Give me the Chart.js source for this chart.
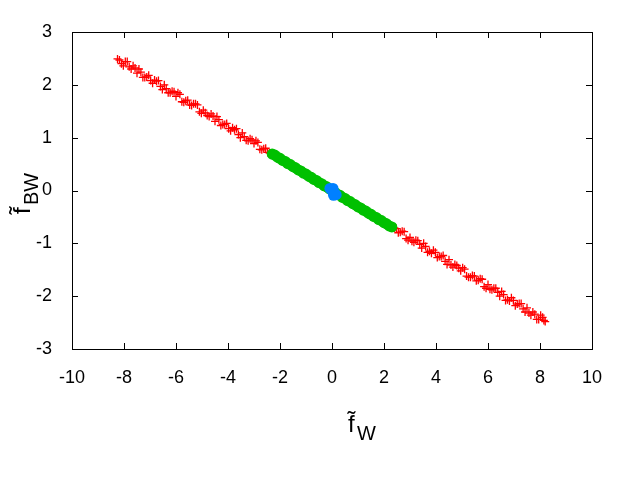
<!DOCTYPE html>
<html>
<head>
<meta charset="utf-8">
<script src="https://cdn.jsdelivr.net/npm/chart.js@4"></script>
<style>
  body { margin: 0; background: #fff; }
</style>
</head>
<body>
<canvas id="grafico" width="640" height="480"></canvas>
<script>
// red crosses, outer part of the band
var redX = [-8.25, -8.1, -7.95, -7.8, -7.65, -7.5, -7.35, -7.2, -7.05, -6.9, -6.75, -6.6, -6.45, -6.3, -6.15, -6.0,
    -5.85, -5.7, -5.55, -5.4, -5.25, -5.1, -4.95, -4.8, -4.65, -4.5, -4.35, -4.2, -4.05, -3.9, -3.75, -3.6,
    -3.45, -3.3, -3.15, -3.0, -2.85, -2.7, -2.55, -2.4,
    2.4, 2.55, 2.7, 2.85, 3.0, 3.15, 3.3, 3.45, 3.6, 3.75, 3.9, 4.05, 4.2, 4.35, 4.5, 4.65,
    4.8, 4.95, 5.1, 5.25, 5.4, 5.55, 5.7, 5.85, 6.0, 6.15, 6.3, 6.45, 6.6, 6.75, 6.9, 7.05,
    7.2, 7.35, 7.5, 7.65, 7.8, 7.95, 8.1, 8.2,
    -8.175, -8.025, -7.875, -7.725, -7.575, -7.425, -7.275, -7.125, -6.975, -6.825, -6.675, -6.525, -6.375,
    -6.225, -6.075, -5.925, -5.775, -5.625, -5.475, -5.325, -5.175, -5.025, -4.875, -4.725, -4.575, -4.425,
    -4.275, -4.125, -3.975, -3.825, -3.675, -3.525, -3.375, -3.225, -3.075, -2.925, -2.775, -2.625, -2.475,
    2.475, 2.625, 2.775, 2.925, 3.075, 3.225, 3.375, 3.525, 3.675, 3.825, 3.975, 4.125, 4.275,
    4.425, 4.575, 4.725, 4.875, 5.025, 5.175, 5.325, 5.475, 5.625, 5.775, 5.925, 6.075, 6.225,
    6.375, 6.525, 6.675, 6.825, 6.975, 7.125, 7.275, 7.425, 7.575, 7.725, 7.875, 8.025, 8.15];
var redY = [2.49, 2.40, 2.44, 2.34, 2.36, 2.22, 2.24, 2.14, 2.18, 2.03, 2.07, 1.97, 2.00, 1.85, 1.88, 1.78,
    1.82, 1.67, 1.71, 1.61, 1.64, 1.49, 1.52, 1.42, 1.45, 1.31, 1.34, 1.25, 1.27, 1.13, 1.15, 1.06,
    1.09, 0.95, 0.98, 0.89, 0.91, 0.77, 0.80, 0.71,
    -0.71, -0.80, -0.77, -0.91, -0.89, -0.98, -0.95, -1.09, -1.06, -1.15, -1.13, -1.27, -1.25, -1.34, -1.31, -1.45,
    -1.42, -1.52, -1.49, -1.64, -1.61, -1.71, -1.67, -1.82, -1.78, -1.88, -1.85, -2.00, -1.97, -2.07, -2.03, -2.18,
    -2.14, -2.24, -2.22, -2.36, -2.34, -2.44, -2.40, -2.48,
    2.47, 2.36, 2.44, 2.30, 2.32, 2.30, 2.14, 2.15, 2.08, 2.09, 2.08, 1.91, 1.93,
    1.85, 1.87, 1.85, 1.68, 1.70, 1.62, 1.64, 1.62, 1.46, 1.47, 1.40, 1.41, 1.40,
    1.23, 1.25, 1.17, 1.19, 1.17, 1.00, 1.02, 0.94, 0.96, 0.94, 0.78, 0.79, 0.72,
    -0.72, -0.79, -0.78, -0.94, -0.96, -0.94, -1.02, -1.00, -1.17, -1.19, -1.17, -1.25, -1.23,
    -1.40, -1.41, -1.40, -1.47, -1.46, -1.62, -1.64, -1.62, -1.70, -1.68, -1.85, -1.87, -1.85,
    -1.93, -1.91, -2.08, -2.09, -2.08, -2.15, -2.14, -2.30, -2.32, -2.30, -2.44, -2.36, -2.46];

// green band in the middle
var greenX = [-2.3, -2.2, -2.1, -2.0, -1.9, -1.8, -1.7, -1.6, -1.5, -1.4, -1.3, -1.2, -1.1, -1.0, -0.9, -0.8,
    -0.7, -0.6, -0.5, -0.4, -0.3, -0.2, -0.1, 0.0, 0.1, 0.2, 0.3, 0.4, 0.5, 0.6, 0.7, 0.8,
    0.9, 1.0, 1.1, 1.2, 1.3, 1.4, 1.5, 1.6, 1.7, 1.8, 1.9, 2.0, 2.1, 2.2, 2.3];
var greenY = [0.69, 0.67, 0.63, 0.61, 0.57, 0.55, 0.51, 0.49, 0.45, 0.43, 0.39, 0.37, 0.33, 0.31, 0.27, 0.25,
    0.21, 0.19, 0.15, 0.13, 0.09, 0.07, 0.03, 0.0, -0.03, -0.07, -0.09, -0.13, -0.15, -0.19, -0.21, -0.25,
    -0.27, -0.31, -0.33, -0.37, -0.39, -0.43, -0.45, -0.49, -0.51, -0.55, -0.57, -0.61, -0.63, -0.67, -0.69];

// blue core
var blueX = [-0.08, -0.02, 0.04, 0.1, 0.16, 0.04, 0.06];
var blueY = [0.04, 0.01, -0.02, -0.05, -0.08, 0.04, -0.09];

var xTicks = [-10, -8, -6, -4, -2, 0, 2, 4, 6, 8, 10];
var yTicks = [-3, -2, -1, 0, 1, 2, 3];

function pts(xs, ys) {
    var out = [];
    for (var i = 0; i < xs.length; i++) {
        out.push({x: xs[i], y: ys[i]});
    }
    return out;
}

var frame = {
    id: 'frame',
    afterDraw: function (chart) {
        var c = chart.ctx;
        var a = chart.chartArea;
        var sx = chart.scales.x, sy = chart.scales.y;
        c.save();
        c.strokeStyle = '#000';
        c.lineWidth = 1;
        c.strokeRect(Math.round(a.left) + 0.5, Math.round(a.top) + 0.5,
            Math.round(a.right - a.left), Math.round(a.bottom - a.top));
        c.beginPath();
        xTicks.forEach(function (v) {
            var px = Math.round(sx.getPixelForValue(v)) + 0.5;
            c.moveTo(px, a.bottom); c.lineTo(px, a.bottom - 6);
            c.moveTo(px, a.top); c.lineTo(px, a.top + 6);
        });
        yTicks.forEach(function (v) {
            var py = Math.round(sy.getPixelForValue(v)) + 0.5;
            c.moveTo(a.left, py); c.lineTo(a.left + 6, py);
            c.moveTo(a.right, py); c.lineTo(a.right - 6, py);
        });
        c.stroke();

        // axis titles: f with tilde and subscript
        c.fillStyle = '#000';
        c.textBaseline = 'alphabetic';
        c.textAlign = 'left';
        c.font = '24px "Liberation Sans", Arial, sans-serif';
        c.fillText('f\u0303', 348, 432);
        c.font = '20px "Liberation Sans", Arial, sans-serif';
        c.fillText('W', 357, 440);

        c.translate(30, 214);
        c.rotate(-Math.PI / 2);
        c.font = '24px "Liberation Sans", Arial, sans-serif';
        c.fillText('f\u0303', 0, 0);
        c.font = '20px "Liberation Sans", Arial, sans-serif';
        c.fillText('BW', 9, 8);
        c.restore();
    }
};

var ctx = document.getElementById('grafico');
var myChart = new Chart(ctx, {
    type: 'scatter',
    data: {
        datasets: [
            {
                label: 'outer',
                data: pts(redX, redY),
                pointStyle: 'cross',
                pointRadius: 4,
                borderColor: 'rgb(255,0,0)',
                borderWidth: 1.3,
                order: 3
            },
            {
                label: 'middle',
                data: pts(greenX, greenY),
                pointStyle: 'circle',
                pointRadius: 5.5,
                backgroundColor: 'rgb(0,192,0)',
                borderColor: 'rgb(0,192,0)',
                borderWidth: 0,
                order: 2
            },
            {
                label: 'core',
                data: pts(blueX, blueY),
                pointStyle: 'circle',
                pointRadius: 5.5,
                backgroundColor: 'rgb(0,128,255)',
                borderColor: 'rgb(0,128,255)',
                borderWidth: 0,
                order: 1
            }
        ]
    },
    options: {
        responsive: false,
        animation: false,
        layout: { padding: { left: 0, right: 48, top: 32, bottom: 0 } },
        plugins: {
            legend: { display: false },
            tooltip: { enabled: false }
        },
        scales: {
            x: {
                type: 'linear',
                min: -10,
                max: 10,
                afterBuildTicks: function (s) { s.ticks = xTicks.map(function (v) { return {value: v}; }); },
                afterFit: function (s) { s.height = 131; },
                grid: { display: false, drawTicks: false },
                border: { display: false },
                ticks: {
                    color: '#000',
                    padding: 18,
                    autoSkip: false,
                    maxRotation: 0,
                    font: { family: '"Liberation Sans", Arial, sans-serif', size: 18 }
                }
            },
            y: {
                type: 'linear',
                min: -3,
                max: 3,
                afterBuildTicks: function (s) { s.ticks = yTicks.map(function (v) { return {value: v}; }); },
                afterFit: function (s) { s.width = 72; },
                grid: { display: false, drawTicks: false },
                border: { display: false },
                ticks: {
                    color: '#000',
                    padding: 20,
                    autoSkip: false,
                    font: { family: '"Liberation Sans", Arial, sans-serif', size: 18 }
                }
            }
        }
    },
    plugins: [frame]
});
</script>
</body>
</html>
